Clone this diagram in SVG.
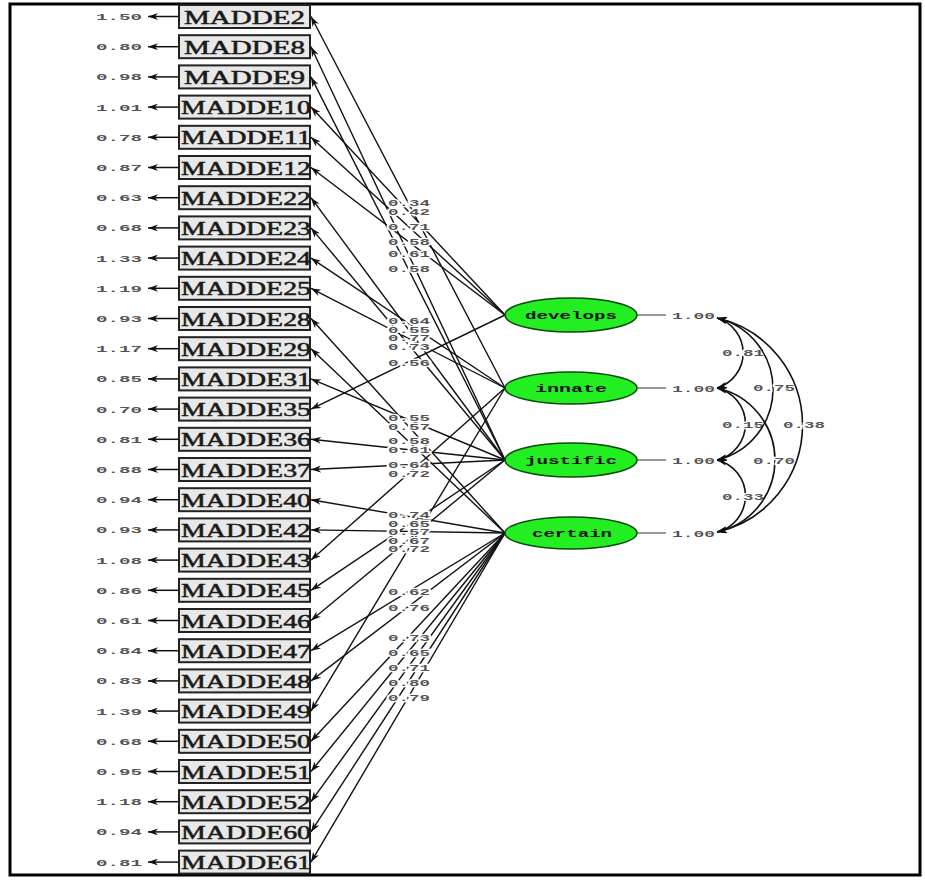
<svg xmlns="http://www.w3.org/2000/svg" width="925" height="883" viewBox="0 0 925 883">
<defs>
<marker id="ah" viewBox="0 0 10 7" refX="10" refY="3.5" markerWidth="10" markerHeight="7" markerUnits="userSpaceOnUse" orient="auto-start-reverse"><path d="M0,0 L10,3.5 L0,7 L3,3.5 z" fill="#111"/></marker>
<style>
.box{fill:#e8e8e8;stroke:#222;stroke-width:2}
.bt{font-family:"Liberation Serif",serif;font-size:19px;fill:#1a1a1a;stroke:#1a1a1a;stroke-width:0.5}
.num{font-family:"Liberation Mono",monospace;font-size:9px;font-weight:bold;fill:#555}
.lbl{font-family:"Liberation Mono",monospace;font-size:9px;font-weight:bold;fill:#555;stroke:#fff;stroke-width:2.5;paint-order:stroke}
.ln{stroke:#111;stroke-width:1.4;fill:none}
.err{stroke:#111;stroke-width:1.5;fill:none}
.arc{stroke:#111;stroke-width:1.6;fill:none}
.ell{fill:#22ee22;stroke:#0a4a0a;stroke-width:1.5}
.et{font-family:"Liberation Mono",monospace;font-size:11px;font-weight:bold;fill:#111}
.vl{stroke:#555;stroke-width:1.2}
</style>
</defs>
<rect x="10" y="4" width="910" height="871" fill="#fff" stroke="#000" stroke-width="3"/>

<g id="connectors">
<g id="error-arrows" marker-end="url(#ah)">
<path class="err" d="M179,16.5 H148"/><path class="err" d="M179,46.7 H148"/><path class="err" d="M179,76.9 H148"/><path class="err" d="M179,107.1 H148"/><path class="err" d="M179,137.3 H148"/><path class="err" d="M179,167.5 H148"/><path class="err" d="M179,197.7 H148"/><path class="err" d="M179,227.9 H148"/><path class="err" d="M179,258.1 H148"/><path class="err" d="M179,288.3 H148"/><path class="err" d="M179,318.5 H148"/><path class="err" d="M179,348.7 H148"/><path class="err" d="M179,378.9 H148"/><path class="err" d="M179,409.1 H148"/><path class="err" d="M179,439.3 H148"/><path class="err" d="M179,469.5 H148"/><path class="err" d="M179,499.7 H148"/><path class="err" d="M179,529.9 H148"/><path class="err" d="M179,560.1 H148"/><path class="err" d="M179,590.3 H148"/><path class="err" d="M179,620.5 H148"/><path class="err" d="M179,650.7 H148"/><path class="err" d="M179,680.9 H148"/><path class="err" d="M179,711.1 H148"/><path class="err" d="M179,741.3 H148"/><path class="err" d="M179,771.5 H148"/><path class="err" d="M179,801.7 H148"/><path class="err" d="M179,831.9 H148"/><path class="err" d="M179,862.1 H148"/>
</g>
<g id="loadings" marker-end="url(#ah)">
<path class="ln" d="M505,388 L311,16.5"/>
<path class="ln" d="M505,460 L311,46.7"/>
<path class="ln" d="M505,460 L311,76.9"/>
<path class="ln" d="M505,315 L311,107.1"/>
<path class="ln" d="M505,315 L311,137.3"/>
<path class="ln" d="M505,315 L311,167.5"/>
<path class="ln" d="M505,460 L311,197.7"/>
<path class="ln" d="M505,460 L311,227.9"/>
<path class="ln" d="M505,388 L311,258.1"/>
<path class="ln" d="M505,388 L311,288.3"/>
<path class="ln" d="M505,533 L311,318.5"/>
<path class="ln" d="M505,533 L311,348.7"/>
<path class="ln" d="M505,460 L311,378.9"/>
<path class="ln" d="M505,315 L311,409.1"/>
<path class="ln" d="M505,460 L311,439.3"/>
<path class="ln" d="M505,460 L311,469.5"/>
<path class="ln" d="M505,533 L311,499.7"/>
<path class="ln" d="M505,533 L311,529.9"/>
<path class="ln" d="M505,388 L311,560.1"/>
<path class="ln" d="M505,460 L311,590.3"/>
<path class="ln" d="M505,460 L311,620.5"/>
<path class="ln" d="M505,533 L311,650.7"/>
<path class="ln" d="M505,533 L311,680.9"/>
<path class="ln" d="M505,388 L311,711.1"/>
<path class="ln" d="M505,533 L311,741.3"/>
<path class="ln" d="M505,533 L311,771.5"/>
<path class="ln" d="M505,533 L311,801.7"/>
<path class="ln" d="M505,533 L311,831.9"/>
<path class="ln" d="M505,533 L311,862.1"/>
</g>
<g id="loading-labels">
<text class="lbl" x="388" y="205.5" textLength="42" lengthAdjust="spacingAndGlyphs">0.34</text>
<text class="lbl" x="388" y="214.5" textLength="42" lengthAdjust="spacingAndGlyphs">0.42</text>
<text class="lbl" x="388" y="229.7" textLength="42" lengthAdjust="spacingAndGlyphs">0.71</text>
<text class="lbl" x="388" y="244.8" textLength="42" lengthAdjust="spacingAndGlyphs">0.58</text>
<text class="lbl" x="388" y="256.9" textLength="42" lengthAdjust="spacingAndGlyphs">0.61</text>
<text class="lbl" x="388" y="272" textLength="42" lengthAdjust="spacingAndGlyphs">0.58</text>
<text class="lbl" x="388" y="324" textLength="42" lengthAdjust="spacingAndGlyphs">0.64</text>
<text class="lbl" x="388" y="332.5" textLength="42" lengthAdjust="spacingAndGlyphs">0.55</text>
<text class="lbl" x="388" y="341" textLength="42" lengthAdjust="spacingAndGlyphs">0.77</text>
<text class="lbl" x="388" y="349.5" textLength="42" lengthAdjust="spacingAndGlyphs">0.73</text>
<text class="lbl" x="388" y="365.6" textLength="42" lengthAdjust="spacingAndGlyphs">0.56</text>
<text class="lbl" x="388" y="421" textLength="42" lengthAdjust="spacingAndGlyphs">0.55</text>
<text class="lbl" x="388" y="430" textLength="42" lengthAdjust="spacingAndGlyphs">0.57</text>
<text class="lbl" x="388" y="444.4" textLength="42" lengthAdjust="spacingAndGlyphs">0.58</text>
<text class="lbl" x="388" y="453.2" textLength="42" lengthAdjust="spacingAndGlyphs">0.61</text>
<text class="lbl" x="388" y="468.3" textLength="42" lengthAdjust="spacingAndGlyphs">0.64</text>
<text class="lbl" x="388" y="477" textLength="42" lengthAdjust="spacingAndGlyphs">0.72</text>
<text class="lbl" x="388" y="518" textLength="42" lengthAdjust="spacingAndGlyphs">0.74</text>
<text class="lbl" x="388" y="526.5" textLength="42" lengthAdjust="spacingAndGlyphs">0.65</text>
<text class="lbl" x="388" y="535" textLength="42" lengthAdjust="spacingAndGlyphs">0.57</text>
<text class="lbl" x="388" y="543.5" textLength="42" lengthAdjust="spacingAndGlyphs">0.67</text>
<text class="lbl" x="388" y="552" textLength="42" lengthAdjust="spacingAndGlyphs">0.72</text>
<text class="lbl" x="388" y="595.4" textLength="42" lengthAdjust="spacingAndGlyphs">0.62</text>
<text class="lbl" x="388" y="610.5" textLength="42" lengthAdjust="spacingAndGlyphs">0.76</text>
<text class="lbl" x="388" y="640.7" textLength="42" lengthAdjust="spacingAndGlyphs">0.73</text>
<text class="lbl" x="388" y="655.8" textLength="42" lengthAdjust="spacingAndGlyphs">0.65</text>
<text class="lbl" x="388" y="670.9" textLength="42" lengthAdjust="spacingAndGlyphs">0.71</text>
<text class="lbl" x="388" y="686" textLength="42" lengthAdjust="spacingAndGlyphs">0.80</text>
<text class="lbl" x="388" y="701.1" textLength="42" lengthAdjust="spacingAndGlyphs">0.79</text>
</g>
<g id="correlations">
<path class="arc" d="M717,318 A36.5,36.5 0 0 1 717,388" marker-start="url(#ah)" marker-end="url(#ah)"/>
<path class="arc" d="M717,388 A37,37 0 0 1 717,460" marker-start="url(#ah)" marker-end="url(#ah)"/>
<path class="arc" d="M717,460 A37,37 0 0 1 717,532" marker-start="url(#ah)" marker-end="url(#ah)"/>
<text class="lbl" x="722" y="356" textLength="42" lengthAdjust="spacingAndGlyphs">0.81</text>
<text class="lbl" x="722" y="428" textLength="42" lengthAdjust="spacingAndGlyphs">0.15</text>
<text class="lbl" x="722" y="500" textLength="42" lengthAdjust="spacingAndGlyphs">0.33</text>
<path class="arc" d="M717,318 A73,73 0 0 1 717,460" marker-start="url(#ah)" marker-end="url(#ah)"/>
<path class="arc" d="M717,388 A73.7,73.7 0 0 1 717,532" marker-start="url(#ah)" marker-end="url(#ah)"/>
<text class="lbl" x="753" y="391" textLength="42" lengthAdjust="spacingAndGlyphs">0.75</text>
<text class="lbl" x="753" y="464" textLength="42" lengthAdjust="spacingAndGlyphs">0.70</text>
<path class="arc" d="M717,318 A109.7,109.7 0 0 1 717,532" marker-start="url(#ah)" marker-end="url(#ah)"/>
<text class="lbl" x="783" y="428" textLength="42" lengthAdjust="spacingAndGlyphs">0.38</text>
</g>
</g>

<g id="MADDE2"><rect class="box" x="179" y="5" width="131" height="23"/><text class="bt" x="184" y="23.5" textLength="121" lengthAdjust="spacingAndGlyphs">MADDE2</text><text class="num" x="96" y="20" textLength="46" lengthAdjust="spacingAndGlyphs">1.50</text></g>
<g id="MADDE8"><rect class="box" x="179" y="35.2" width="131" height="23"/><text class="bt" x="184" y="53.7" textLength="121" lengthAdjust="spacingAndGlyphs">MADDE8</text><text class="num" x="96" y="50.2" textLength="46" lengthAdjust="spacingAndGlyphs">0.80</text></g>
<g id="MADDE9"><rect class="box" x="179" y="65.4" width="131" height="23"/><text class="bt" x="184" y="83.9" textLength="121" lengthAdjust="spacingAndGlyphs">MADDE9</text><text class="num" x="96" y="80.4" textLength="46" lengthAdjust="spacingAndGlyphs">0.98</text></g>
<g id="MADDE10"><rect class="box" x="179" y="95.6" width="131" height="23"/><text class="bt" x="181" y="114.1" textLength="130" lengthAdjust="spacingAndGlyphs">MADDE10</text><text class="num" x="96" y="110.6" textLength="46" lengthAdjust="spacingAndGlyphs">1.01</text></g>
<g id="MADDE11"><rect class="box" x="179" y="125.8" width="131" height="23"/><text class="bt" x="181" y="144.3" textLength="130" lengthAdjust="spacingAndGlyphs">MADDE11</text><text class="num" x="96" y="140.8" textLength="46" lengthAdjust="spacingAndGlyphs">0.78</text></g>
<g id="MADDE12"><rect class="box" x="179" y="156" width="131" height="23"/><text class="bt" x="181" y="174.5" textLength="130" lengthAdjust="spacingAndGlyphs">MADDE12</text><text class="num" x="96" y="171" textLength="46" lengthAdjust="spacingAndGlyphs">0.87</text></g>
<g id="MADDE22"><rect class="box" x="179" y="186.2" width="131" height="23"/><text class="bt" x="181" y="204.7" textLength="130" lengthAdjust="spacingAndGlyphs">MADDE22</text><text class="num" x="96" y="201.2" textLength="46" lengthAdjust="spacingAndGlyphs">0.63</text></g>
<g id="MADDE23"><rect class="box" x="179" y="216.4" width="131" height="23"/><text class="bt" x="181" y="234.9" textLength="130" lengthAdjust="spacingAndGlyphs">MADDE23</text><text class="num" x="96" y="231.4" textLength="46" lengthAdjust="spacingAndGlyphs">0.68</text></g>
<g id="MADDE24"><rect class="box" x="179" y="246.6" width="131" height="23"/><text class="bt" x="181" y="265.1" textLength="130" lengthAdjust="spacingAndGlyphs">MADDE24</text><text class="num" x="96" y="261.6" textLength="46" lengthAdjust="spacingAndGlyphs">1.33</text></g>
<g id="MADDE25"><rect class="box" x="179" y="276.8" width="131" height="23"/><text class="bt" x="181" y="295.3" textLength="130" lengthAdjust="spacingAndGlyphs">MADDE25</text><text class="num" x="96" y="291.8" textLength="46" lengthAdjust="spacingAndGlyphs">1.19</text></g>
<g id="MADDE28"><rect class="box" x="179" y="307" width="131" height="23"/><text class="bt" x="181" y="325.5" textLength="130" lengthAdjust="spacingAndGlyphs">MADDE28</text><text class="num" x="96" y="322" textLength="46" lengthAdjust="spacingAndGlyphs">0.93</text></g>
<g id="MADDE29"><rect class="box" x="179" y="337.2" width="131" height="23"/><text class="bt" x="181" y="355.7" textLength="130" lengthAdjust="spacingAndGlyphs">MADDE29</text><text class="num" x="96" y="352.2" textLength="46" lengthAdjust="spacingAndGlyphs">1.17</text></g>
<g id="MADDE31"><rect class="box" x="179" y="367.4" width="131" height="23"/><text class="bt" x="181" y="385.9" textLength="130" lengthAdjust="spacingAndGlyphs">MADDE31</text><text class="num" x="96" y="382.4" textLength="46" lengthAdjust="spacingAndGlyphs">0.85</text></g>
<g id="MADDE35"><rect class="box" x="179" y="397.6" width="131" height="23"/><text class="bt" x="181" y="416.1" textLength="130" lengthAdjust="spacingAndGlyphs">MADDE35</text><text class="num" x="96" y="412.6" textLength="46" lengthAdjust="spacingAndGlyphs">0.70</text></g>
<g id="MADDE36"><rect class="box" x="179" y="427.8" width="131" height="23"/><text class="bt" x="181" y="446.3" textLength="130" lengthAdjust="spacingAndGlyphs">MADDE36</text><text class="num" x="96" y="442.8" textLength="46" lengthAdjust="spacingAndGlyphs">0.81</text></g>
<g id="MADDE37"><rect class="box" x="179" y="458" width="131" height="23"/><text class="bt" x="181" y="476.5" textLength="130" lengthAdjust="spacingAndGlyphs">MADDE37</text><text class="num" x="96" y="473" textLength="46" lengthAdjust="spacingAndGlyphs">0.88</text></g>
<g id="MADDE40"><rect class="box" x="179" y="488.2" width="131" height="23"/><text class="bt" x="181" y="506.7" textLength="130" lengthAdjust="spacingAndGlyphs">MADDE40</text><text class="num" x="96" y="503.2" textLength="46" lengthAdjust="spacingAndGlyphs">0.94</text></g>
<g id="MADDE42"><rect class="box" x="179" y="518.4" width="131" height="23"/><text class="bt" x="181" y="536.9" textLength="130" lengthAdjust="spacingAndGlyphs">MADDE42</text><text class="num" x="96" y="533.4" textLength="46" lengthAdjust="spacingAndGlyphs">0.93</text></g>
<g id="MADDE43"><rect class="box" x="179" y="548.6" width="131" height="23"/><text class="bt" x="181" y="567.1" textLength="130" lengthAdjust="spacingAndGlyphs">MADDE43</text><text class="num" x="96" y="563.6" textLength="46" lengthAdjust="spacingAndGlyphs">1.08</text></g>
<g id="MADDE45"><rect class="box" x="179" y="578.8" width="131" height="23"/><text class="bt" x="181" y="597.3" textLength="130" lengthAdjust="spacingAndGlyphs">MADDE45</text><text class="num" x="96" y="593.8" textLength="46" lengthAdjust="spacingAndGlyphs">0.86</text></g>
<g id="MADDE46"><rect class="box" x="179" y="609" width="131" height="23"/><text class="bt" x="181" y="627.5" textLength="130" lengthAdjust="spacingAndGlyphs">MADDE46</text><text class="num" x="96" y="624" textLength="46" lengthAdjust="spacingAndGlyphs">0.61</text></g>
<g id="MADDE47"><rect class="box" x="179" y="639.2" width="131" height="23"/><text class="bt" x="181" y="657.7" textLength="130" lengthAdjust="spacingAndGlyphs">MADDE47</text><text class="num" x="96" y="654.2" textLength="46" lengthAdjust="spacingAndGlyphs">0.84</text></g>
<g id="MADDE48"><rect class="box" x="179" y="669.4" width="131" height="23"/><text class="bt" x="181" y="687.9" textLength="130" lengthAdjust="spacingAndGlyphs">MADDE48</text><text class="num" x="96" y="684.4" textLength="46" lengthAdjust="spacingAndGlyphs">0.83</text></g>
<g id="MADDE49"><rect class="box" x="179" y="699.6" width="131" height="23"/><text class="bt" x="181" y="718.1" textLength="130" lengthAdjust="spacingAndGlyphs">MADDE49</text><text class="num" x="96" y="714.6" textLength="46" lengthAdjust="spacingAndGlyphs">1.39</text></g>
<g id="MADDE50"><rect class="box" x="179" y="729.8" width="131" height="23"/><text class="bt" x="181" y="748.3" textLength="130" lengthAdjust="spacingAndGlyphs">MADDE50</text><text class="num" x="96" y="744.8" textLength="46" lengthAdjust="spacingAndGlyphs">0.68</text></g>
<g id="MADDE51"><rect class="box" x="179" y="760" width="131" height="23"/><text class="bt" x="181" y="778.5" textLength="130" lengthAdjust="spacingAndGlyphs">MADDE51</text><text class="num" x="96" y="775" textLength="46" lengthAdjust="spacingAndGlyphs">0.95</text></g>
<g id="MADDE52"><rect class="box" x="179" y="790.2" width="131" height="23"/><text class="bt" x="181" y="808.7" textLength="130" lengthAdjust="spacingAndGlyphs">MADDE52</text><text class="num" x="96" y="805.2" textLength="46" lengthAdjust="spacingAndGlyphs">1.18</text></g>
<g id="MADDE60"><rect class="box" x="179" y="820.4" width="131" height="23"/><text class="bt" x="181" y="838.9" textLength="130" lengthAdjust="spacingAndGlyphs">MADDE60</text><text class="num" x="96" y="835.4" textLength="46" lengthAdjust="spacingAndGlyphs">0.94</text></g>
<g id="MADDE61"><rect class="box" x="179" y="850.6" width="131" height="23"/><text class="bt" x="181" y="869.1" textLength="130" lengthAdjust="spacingAndGlyphs">MADDE61</text><text class="num" x="96" y="865.6" textLength="46" lengthAdjust="spacingAndGlyphs">0.81</text></g>

<g id="develops"><ellipse class="ell" cx="571" cy="315" rx="66" ry="17"/><text class="et" x="525" y="319" textLength="92" lengthAdjust="spacingAndGlyphs">develops</text><line class="vl" x1="637" y1="315" x2="666" y2="315"/><text class="num" x="672" y="318.5" textLength="43" lengthAdjust="spacingAndGlyphs">1.00</text></g>
<g id="innate"><ellipse class="ell" cx="571" cy="388" rx="66" ry="16"/><text class="et" x="535" y="392" textLength="72" lengthAdjust="spacingAndGlyphs">innate</text><line class="vl" x1="637" y1="388" x2="666" y2="388"/><text class="num" x="672" y="391.5" textLength="43" lengthAdjust="spacingAndGlyphs">1.00</text></g>
<g id="justific"><ellipse class="ell" cx="571" cy="460" rx="66" ry="17"/><text class="et" x="525" y="464" textLength="92" lengthAdjust="spacingAndGlyphs">justific</text><line class="vl" x1="637" y1="460" x2="666" y2="460"/><text class="num" x="672" y="463.5" textLength="43" lengthAdjust="spacingAndGlyphs">1.00</text></g>
<g id="certain"><ellipse class="ell" cx="571" cy="533" rx="66" ry="16"/><text class="et" x="532" y="537" textLength="80" lengthAdjust="spacingAndGlyphs">certain</text><line class="vl" x1="637" y1="533" x2="666" y2="533"/><text class="num" x="672" y="536.5" textLength="43" lengthAdjust="spacingAndGlyphs">1.00</text></g>
</svg>
